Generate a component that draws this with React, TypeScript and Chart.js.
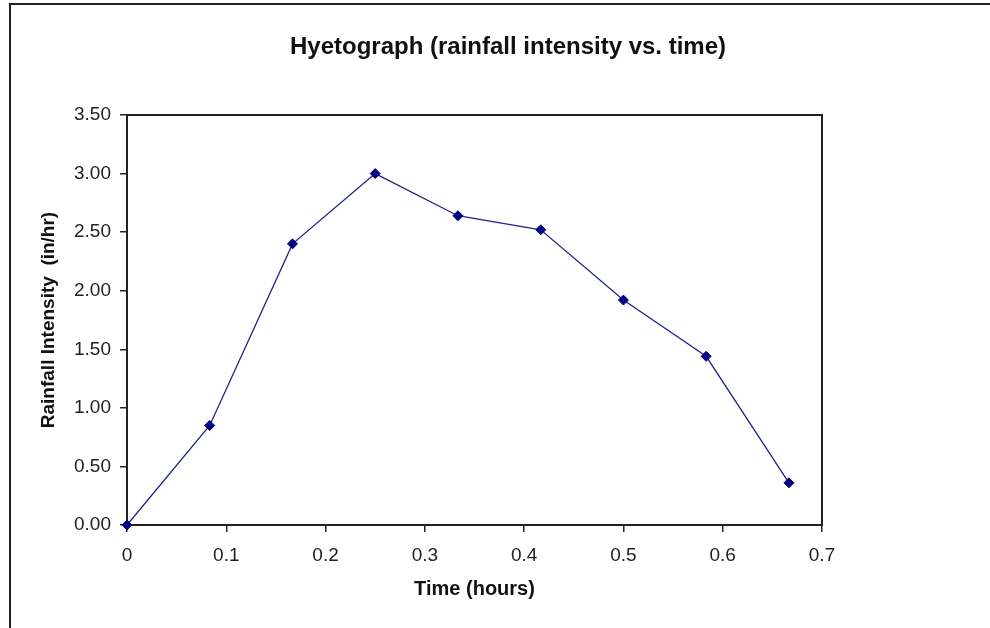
import React, { useEffect, useRef } from "react";
import { Chart, registerables } from "chart.js";

Chart.register(...registerables);

const timeHours = [0, 0.0833, 0.1667, 0.25, 0.3333, 0.4167, 0.5, 0.5833, 0.6667];
const intensity = [0, 0.85, 2.4, 3.0, 2.64, 2.52, 1.92, 1.44, 0.36];
const xTickLabels = ["0", "0.1", "0.2", "0.3", "0.4", "0.5", "0.6", "0.7"];
const yTickLabels = ["0.00", "0.50", "1.00", "1.50", "2.00", "2.50", "3.00", "3.50"];

const chartTitle = "Hyetograph (rainfall intensity vs. time)";
const xTitle = "Time (hours)";
const yTitle = "Rainfall Intensity  (in/hr)";

const FONT = "'Liberation Sans', Arial, Helvetica, sans-serif";
const AXIS = "#222222";

export default function App() {
  const ref = useRef<HTMLCanvasElement | null>(null);

  useEffect(() => {
    if (!ref.current) return;
    const chart = new Chart(ref.current, {
      type: "line",
      data: {
        datasets: [
          {
            data: timeHours.map((t, i) => ({ x: t, y: intensity[i] })),
            borderColor: "#23238a",
            borderWidth: 1.3,
            backgroundColor: "#000080",
            pointBackgroundColor: "#000080",
            pointBorderColor: "#000080",
            pointStyle: "rectRot",
            pointRadius: 5,
            pointBorderWidth: 1,
            tension: 0,
            fill: false,
            clip: false,
          },
        ],
      },
      options: {
        animation: false,
        responsive: false,
        maintainAspectRatio: false,
        layout: { padding: { left: 26, right: 0, top: 0, bottom: 0 } },
        plugins: {
          legend: { display: false },
          tooltip: { enabled: false },
          title: {
            display: true,
            text: chartTitle,
            color: "#111111",
            font: { family: FONT, size: 24, weight: "bold", lineHeight: 1.2 },
            padding: { top: 33, bottom: 0 },
          },
        },
        scales: {
          x: {
            type: "linear",
            position: "bottom",
            min: 0,
            max: 0.7,
            afterFit: (s: any) => {
              s.height = 103;
            },
            ticks: {
              stepSize: 0.1,
              color: AXIS,
              padding: 12,
              font: { family: FONT, size: 19 },
              callback: (_v: any, i: number) => xTickLabels[i],
            },
            grid: {
              display: true,
              drawOnChartArea: false,
              drawTicks: true,
              tickLength: 7,
              color: AXIS,
              lineWidth: 1.5,
            },
            border: { display: true, color: AXIS, width: 2 },
            title: {
              display: true,
              text: xTitle,
              color: "#111111",
              font: { family: FONT, size: 20, weight: "bold", lineHeight: 1.2 },
              padding: { top: 0, bottom: 27 },
            },
          },
          x2: {
            type: "linear",
            position: "top",
            min: 0,
            max: 0.7,
            afterFit: (s: any) => {
              s.height = 115 - (33 + 24 * 1.2);
            },
            ticks: { display: false },
            grid: { display: true, drawOnChartArea: false, drawTicks: false },
            border: { display: true, color: AXIS, width: 2 },
          },
          y: {
            type: "linear",
            position: "left",
            min: 0,
            max: 3.5,
            afterFit: (s: any) => {
              s.width = 101;
            },
            ticks: {
              stepSize: 0.5,
              color: AXIS,
              padding: 9,
              font: { family: FONT, size: 19 },
              callback: (_v: any, i: number) => yTickLabels[i],
            },
            grid: {
              display: true,
              drawOnChartArea: false,
              drawTicks: true,
              tickLength: 7,
              color: AXIS,
              lineWidth: 1.5,
            },
            border: { display: true, color: AXIS, width: 2 },
            title: {
              display: true,
              text: yTitle,
              color: "#111111",
              font: { family: FONT, size: 19, weight: "bold", lineHeight: 1.2 },
              padding: { top: 11, bottom: 0 },
            },
          },
          y2: {
            type: "linear",
            position: "right",
            min: 0,
            max: 3.5,
            afterFit: (s: any) => {
              s.width = 168;
            },
            ticks: { display: false },
            grid: { display: true, drawOnChartArea: false, drawTicks: false },
            border: { display: true, color: AXIS, width: 2 },
          },
        },
      },
    });
    return () => chart.destroy();
  }, []);

  return (
    <div
      style={{
        position: "absolute",
        left: 0,
        top: 0,
        width: 990,
        height: 628,
        overflow: "hidden",
        background: "#ffffff",
      }}
    >
      <div
        style={{
          position: "absolute",
          left: 9,
          top: 3,
          width: 1100,
          height: 800,
          borderLeft: "2px solid #222",
          borderTop: "2px solid #222",
        }}
      />
      <canvas
        ref={ref}
        width={990}
        height={628}
        style={{ position: "absolute", left: 0, top: 0, width: 990, height: 628 }}
      />
    </div>
  );
}
